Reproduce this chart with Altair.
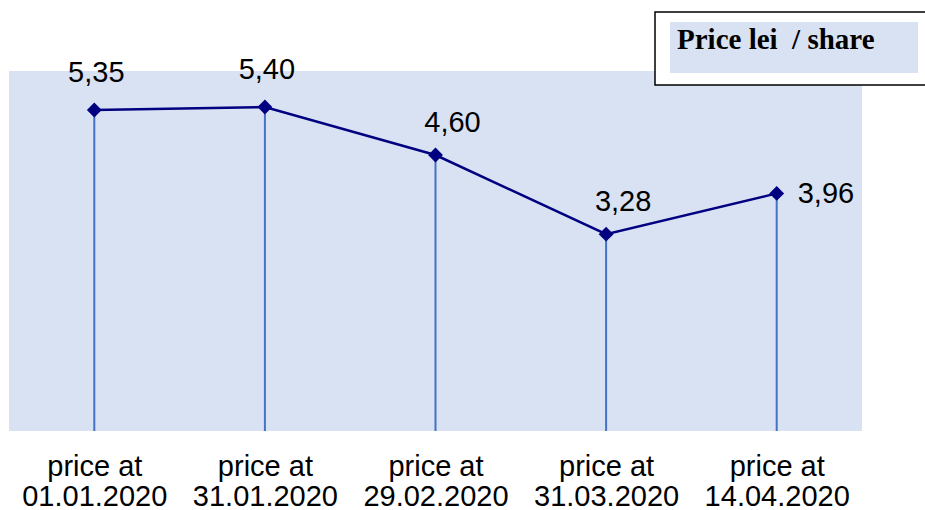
import altair as alt
import pandas as pd

# Share price on each reporting date
categories = [
    "price at\n01.01.2020",
    "price at\n31.01.2020",
    "price at\n29.02.2020",
    "price at\n31.03.2020",
    "price at\n14.04.2020",
]
prices = [5.35, 5.40, 4.60, 3.28, 3.96]
value_labels = ["5,35", "5,40", "4,60", "3,28", "3,96"]
series_name = "Price lei\u00a0 / share"

df = pd.DataFrame({
    "date": categories,
    "price": prices,
    "label": value_labels,
    "idx": list(range(len(categories))),
})

NAVY = "#000080"
DROP = "#4472C4"
BG = "#D9E2F3"
FONT = "Liberation Sans"

x_enc = alt.X(
    "date:N",
    sort=None,
    scale=alt.Scale(type="point", padding=0.5),
    axis=alt.Axis(
        title=None,
        labelAngle=0,
        labelExpr="split(datum.value, '\\n')",
        labelFont=FONT,
        labelFontSize=29,
        labelColor="black",
        labelLineHeight=30,
        labelPadding=21,
        domain=False,
        ticks=False,
        grid=False,
    ),
)
y_enc = alt.Y(
    "price:Q",
    scale=alt.Scale(domain=[0, 6], nice=False, zero=True),
    axis=None,
)

base = alt.Chart(df).encode(x=x_enc)

# vertical drop lines from each point down to zero
drops = base.mark_rule(color=DROP, strokeWidth=2).encode(
    y=y_enc, y2=alt.datum(0)
)

line = base.mark_line(color=NAVY, strokeWidth=2.5).encode(y=y_enc)

points = base.mark_point(
    shape="diamond", filled=True, size=220, color=NAVY, opacity=1
).encode(y=y_enc)

label_style = dict(font=FONT, fontSize=29, color="black")

labels_above = base.transform_filter("datum.idx <= 1").mark_text(
    dx=2, dy=-37, **label_style
).encode(y=y_enc, text="label:N")

labels_above_right = base.transform_filter(
    "datum.idx >= 2 && datum.idx <= 3"
).mark_text(dx=17, dy=-32, **label_style).encode(y=y_enc, text="label:N")

labels_right = base.transform_filter("datum.idx == 4").mark_text(
    align="left", baseline="middle", dx=21, dy=1, **label_style
).encode(y=y_enc, text="label:N")

# legend box in the top-right corner
key_df = pd.DataFrame({"name": [series_name]})
key_frame = alt.Chart(key_df).mark_rect(
    fill="white", stroke="black", strokeWidth=1.5
).encode(
    x=alt.value(646), x2=alt.value(920),
    y=alt.value(-59), y2=alt.value(14),
)
key_fill = alt.Chart(key_df).mark_rect(fill=BG).encode(
    x=alt.value(661), x2=alt.value(909),
    y=alt.value(-49), y2=alt.value(2),
)
key_text = alt.Chart(key_df).mark_text(
    align="left", baseline="alphabetic",
    font="Liberation Serif", fontSize=29, fontWeight="bold", color="black",
).encode(
    x=alt.value(668), y=alt.value(-22), text="name:N",
)

chart = (
    alt.layer(
        drops, line, points,
        labels_above, labels_above_right, labels_right,
        key_frame, key_fill, key_text,
    )
    .properties(
        width=853,
        height=360,
        padding={"left": 9, "top": 71, "right": 63, "bottom": 79},
        autosize=alt.AutoSizeParams(type="none"),
        background="white",
    )
    .configure_view(fill=BG, strokeWidth=0)
)

chart.save("out.html", embed_options={"renderer": "svg", "actions": False})
